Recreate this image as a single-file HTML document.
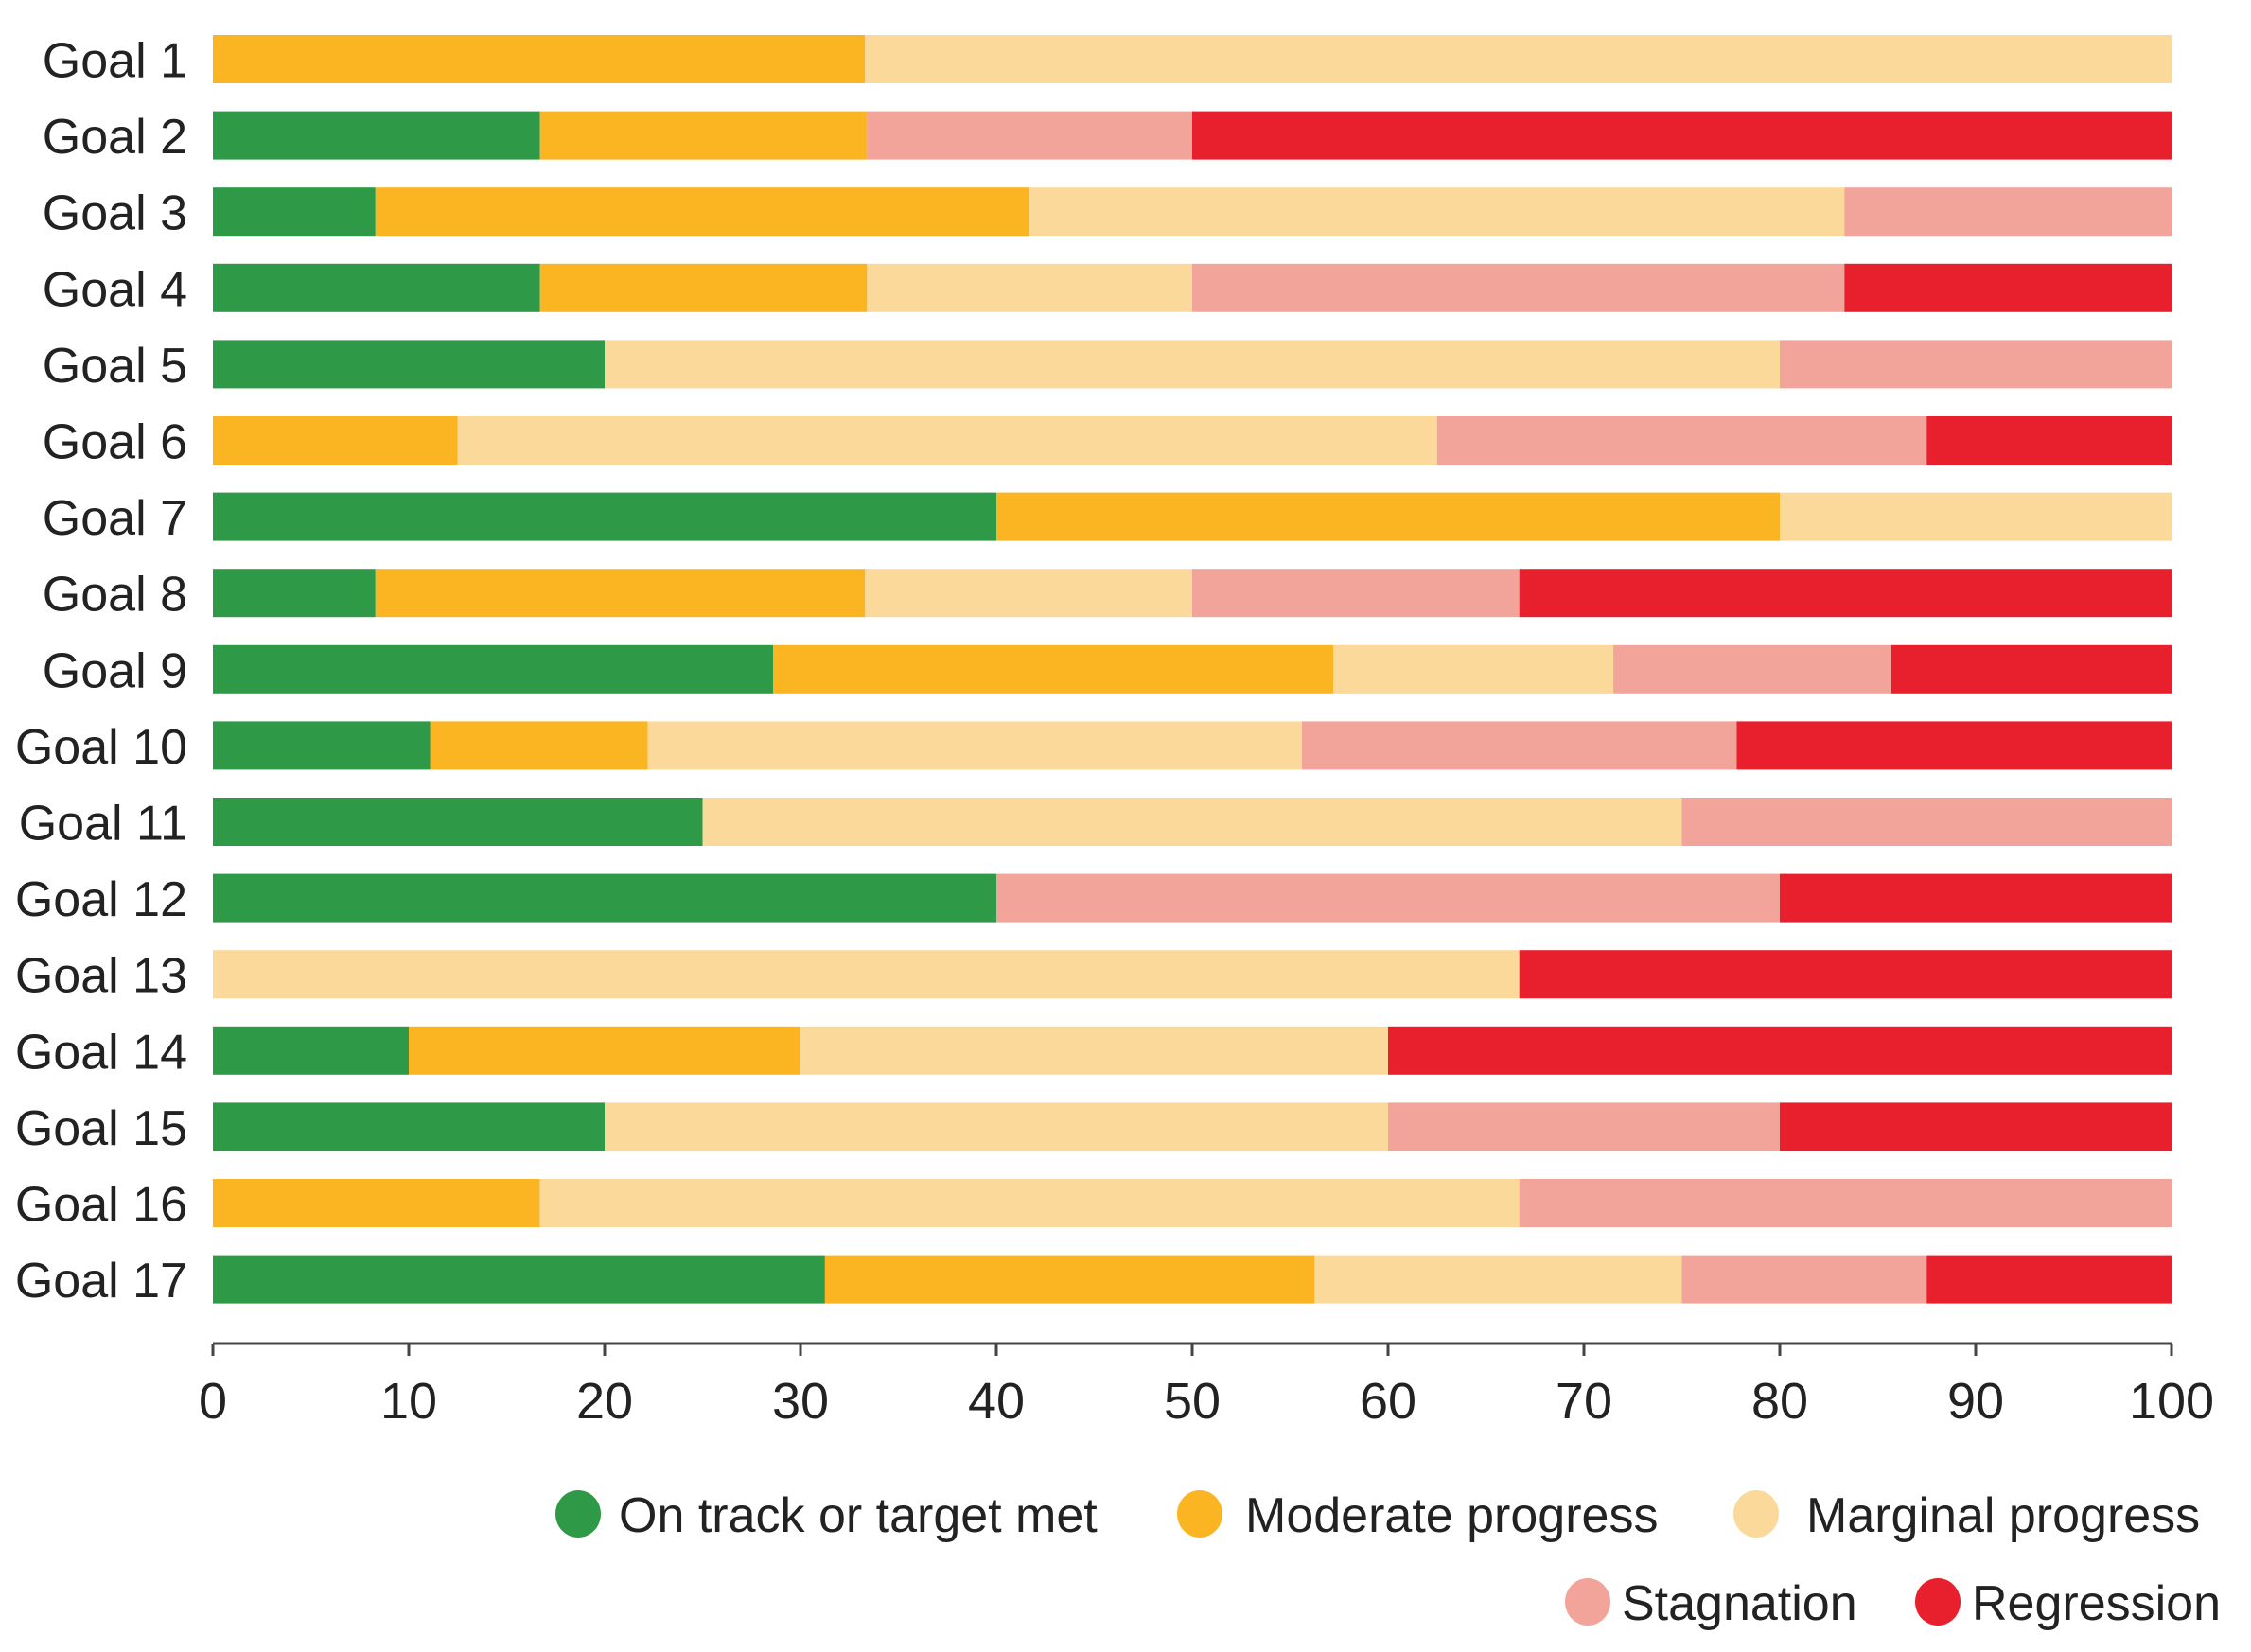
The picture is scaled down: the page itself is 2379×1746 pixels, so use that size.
<!DOCTYPE html>
<html><head><meta charset="utf-8"><style>
html,body{margin:0;padding:0;background:#fff;}
svg{display:block;font-family:"Liberation Sans",sans-serif;}
</style></head><body>
<svg id="chart" width="2379" height="1746" viewBox="0 0 2379 1746">
<g id="bars"></g>
<g id="ylabels"></g>
<g id="xaxis"></g>
<g id="legend"></g>
</svg>
<script>
const categories = ["Goal 1","Goal 2","Goal 3","Goal 4","Goal 5","Goal 6","Goal 7","Goal 8","Goal 9","Goal 10","Goal 11","Goal 12","Goal 13","Goal 14","Goal 15","Goal 16","Goal 17"];
const onTrack   = [0,16.7,8.3,16.7,20,0,40,8.3,28.6,11.1,25,40,0,10,20,0,31.25];
const moderate  = [33.3,16.7,33.4,16.7,0,12.5,40,25,28.6,11.1,0,0,0,20,0,16.7,25];
const marginal  = [66.7,0,41.6,16.6,60,50,20,16.7,14.3,33.4,50,0,66.7,30,40,50,18.75];
const stagnation= [0,16.6,16.7,33.3,20,25,0,16.7,14.2,22.2,25,40,0,0,20,33.3,12.5];
const regression= [0,50,0,16.7,0,12.5,0,33.3,14.3,22.2,0,20,33.3,40,20,0,12.5];
const xTicks = [0,10,20,30,40,50,60,70,80,90,100];
const seriesNames = ["On track or target met","Moderate progress","Marginal progress","Stagnation","Regression"];
const seriesColors = ["#2e9a47","#fbb523","#fbd99b","#f2a49a","#e8202e"];

const NS="http://www.w3.org/2000/svg";
const X0=225, X1=2295, TOP=37, PITCH=80.6, BH=51, AXY=1420;
function xs(v){return X0+(X1-X0)*v/100;}
function ys(i){return TOP+i*PITCH;}
function mk(tag,attrs,parent){const e=document.createElementNS(NS,tag);for(const k in attrs)e.setAttribute(k,attrs[k]);parent.appendChild(e);return e;}

const series=[onTrack,moderate,marginal,stagnation,regression];
const bars=document.getElementById('bars');
categories.forEach((c,i)=>{
  let acc=0;
  series.forEach((s,j)=>{
    const v=s[i];
    if(v>0){
      const r=mk('rect',{x:xs(acc),y:ys(i),width:xs(acc+v)-xs(acc),height:BH,fill:seriesColors[j]},bars);
      
      
    }
    acc+=v;
  });
  const t=mk('text',{x:198,y:ys(i)+BH/2+19,'text-anchor':'end','font-size':52,fill:'#222'},document.getElementById('ylabels'));
  t.textContent=c;
  
  
});
const xa=document.getElementById('xaxis');
const ln=mk('line',{x1:X0,x2:X1,y1:AXY,y2:AXY,stroke:'#444','stroke-width':3},xa);


xTicks.forEach(v=>{
  const tk=mk('line',{x1:xs(v),x2:xs(v),y1:AXY,y2:AXY+13,stroke:'#444','stroke-width':3},xa);
  
  
  const t=mk('text',{x:xs(v),y:1499,'text-anchor':'middle','font-size':54,fill:'#222'},xa);
  t.textContent=v;
  
  
});
const lg=document.getElementById('legend');
const legPos=[[611,1600],[1268,1600],[1856,1600],[1678,1693],[2048,1693]];
const legText=[654,1316,1909,1714,2084];
seriesNames.forEach((n,j)=>{
  const c=mk('ellipse',{cx:legPos[j][0],cy:legPos[j][1],rx:24,ry:25,fill:seriesColors[j]},lg);
  
  
  const t=mk('text',{x:legText[j],y:legPos[j][1]+19,'font-size':52,fill:'#222'},lg);
  t.textContent=n;
  
  
});
</script>
</body></html>
